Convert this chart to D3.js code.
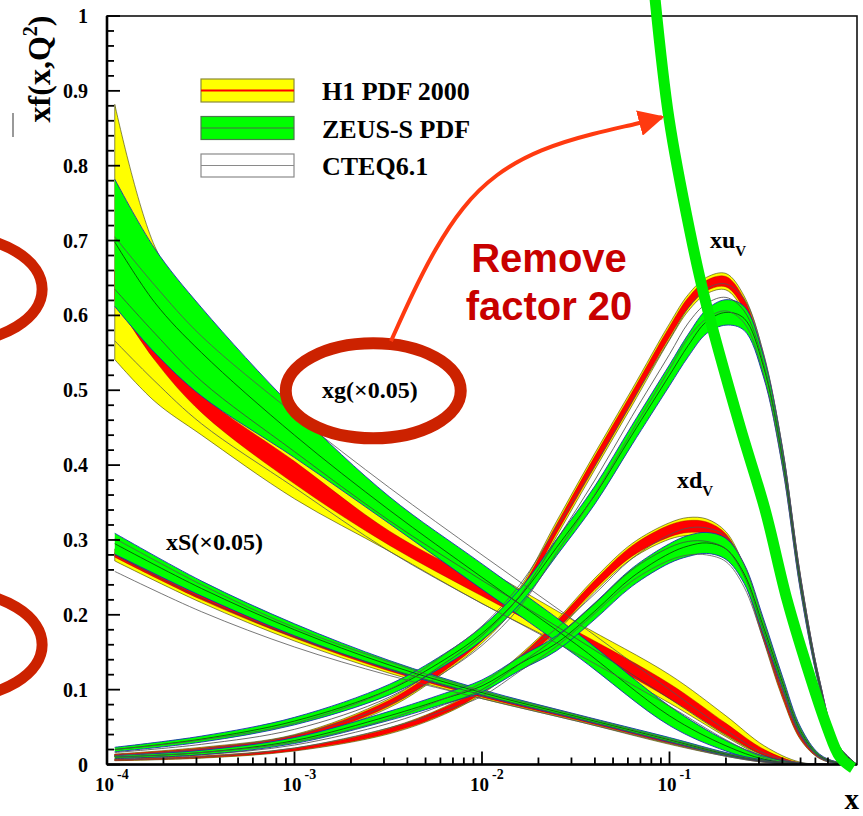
<!DOCTYPE html>
<html><head><meta charset="utf-8">
<script src="https://cdn.jsdelivr.net/npm/d3@7"></script>
<style>body{margin:0;background:#fff} svg{display:block}</style>
</head><body>
<svg id="c" width="863" height="816"></svg>
<script>
// ---------- DATA ----------
const yTicks = [0,0.1,0.2,0.3,0.4,0.5,0.6,0.7,0.8,0.9,1];
const yTickLabels = ["0","0.1","0.2","0.3","0.4","0.5","0.6","0.7","0.8","0.9","1"];
const xDecades = [1e-4,1e-3,1e-2,1e-1];
const xDecadeExp = ["-4","-3","-2","-1"];
const legendLabels = ["H1 PDF 2000","ZEUS-S PDF","CTEQ6.1"];

// gluon xg (x0.05): lower / upper edges
const gX       = [1.1e-4,1.8e-4,3.2e-4,1e-3,3.2e-3,0.01,0.032,0.1,0.2,0.32,0.5,0.8];
const gH1TotHi = [0.882,0.692,0.595,0.460,0.350,0.265,0.190,0.120,0.065,0.025,0.003,0];
const gH1TotLo = [0.541,0.485,0.440,0.355,0.285,0.215,0.150,0.082,0.037,0.010,0,0];
const gH1ExpHi = [0.660,0.575,0.495,0.405,0.312,0.244,0.178,0.108,0.055,0.020,0.002,0];
const gH1ExpLo = [0.620,0.540,0.470,0.375,0.293,0.225,0.158,0.088,0.040,0.012,0,0];
const gZeusHi  = [0.782,0.689,0.610,0.475,0.358,0.268,0.176,0.078,0.032,0.011,0.002,0];
const gZeusLo  = [0.612,0.550,0.492,0.410,0.322,0.234,0.145,0.052,0.018,0.004,0,0];
const gZeusC   = [0.698,0.617,0.550,0.440,0.340,0.250,0.160,0.065,0.025,0.007,0.001,0];
const gCteqHi  = [0.705,0.640,0.572,0.468,0.370,0.280,0.190,0.100,0.046,0.015,0.002,0];
const gCteqLo  = [0.566,0.512,0.455,0.370,0.285,0.215,0.148,0.078,0.033,0.009,0,0];
const gCteqC   = [0.635,0.576,0.512,0.418,0.326,0.246,0.168,0.088,0.039,0.012,0.001,0];

// sea xS (x0.05): central value and half-width
const sX     = [1.1e-4,3.2e-4,1e-3,3.2e-3,0.01,0.032,0.1,0.2,0.32,0.5,0.8];
const sH1C   = [0.280,0.223,0.171,0.127,0.092,0.061,0.030,0.013,0.004,0.001,0];
const sH1Tot = [0.008,0.007,0.006,0.005,0.004,0.003,0.003,0.002,0.001,0.0005,0];
const sH1Exp = [0.003,0.003,0.002,0.002,0.002,0.0015,0.0015,0.001,0.0005,0.0002,0];
const sZeusC = [0.295,0.235,0.180,0.133,0.096,0.064,0.033,0.014,0.005,0.001,0];
const sZeusE = [0.014,0.010,0.008,0.006,0.004,0.003,0.003,0.002,0.001,0.0005,0];
const sCteqC = [0.280,0.222,0.170,0.128,0.093,0.062,0.031,0.013,0.004,0.001,0];
const sCteqE = [0.022,0.018,0.013,0.009,0.005,0.004,0.003,0.002,0.001,0.0005,0];

// valence grid
const vX = [1.1e-4,3.2e-4,1e-3,3.2e-3,6.3e-3,0.01,0.016,0.025,0.04,0.063,0.1,0.126,0.158,0.2,0.25,0.316,0.4,0.5,0.63,0.79,1.0];
// xu_v
const uH1C   = [0.012,0.020,0.036,0.082,0.130,0.170,0.228,0.315,0.405,0.490,0.578,0.617,0.640,0.645,0.615,0.540,0.415,0.245,0.110,0.025,0];
const uH1Tot = [0.002,0.003,0.004,0.006,0.007,0.008,0.009,0.010,0.011,0.011,0.011,0.011,0.011,0.011,0.011,0.010,0.009,0.007,0.004,0.002,0];
const uH1Exp = [0.0015,0.002,0.003,0.004,0.005,0.005,0.006,0.006,0.007,0.007,0.007,0.007,0.007,0.007,0.007,0.006,0.006,0.005,0.003,0.001,0];
const uZeusC = [0.020,0.034,0.058,0.100,0.140,0.175,0.225,0.290,0.360,0.440,0.520,0.560,0.592,0.604,0.596,0.533,0.410,0.240,0.108,0.025,0];
const uZeusE = [0.003,0.004,0.005,0.007,0.008,0.009,0.010,0.011,0.012,0.013,0.014,0.015,0.016,0.017,0.016,0.014,0.012,0.009,0.005,0.002,0];
const uCteqC = [0.016,0.027,0.047,0.090,0.135,0.172,0.226,0.300,0.380,0.465,0.548,0.590,0.616,0.624,0.606,0.537,0.412,0.242,0.109,0.025,0];
const uCteqE = [0.004,0.006,0.008,0.010,0.012,0.013,0.015,0.017,0.019,0.020,0.020,0.020,0.020,0.018,0.016,0.014,0.012,0.009,0.005,0.002,0];
// xd_v
const dH1C   = [0.006,0.010,0.020,0.045,0.072,0.100,0.140,0.185,0.240,0.285,0.312,0.318,0.316,0.300,0.255,0.175,0.095,0.037,0.010,0.002,0];
const dH1Tot = [0.001,0.0015,0.002,0.004,0.005,0.006,0.007,0.008,0.009,0.010,0.011,0.012,0.012,0.011,0.010,0.008,0.006,0.004,0.002,0.001,0];
const dH1Exp = [0.0007,0.001,0.0015,0.003,0.004,0.004,0.005,0.006,0.006,0.007,0.008,0.008,0.008,0.008,0.007,0.006,0.004,0.003,0.0015,0.0005,0];
const dZeusC = [0.010,0.016,0.032,0.065,0.088,0.105,0.135,0.162,0.205,0.250,0.282,0.292,0.296,0.288,0.255,0.185,0.110,0.045,0.012,0.002,0];
const dZeusE = [0.002,0.003,0.004,0.006,0.007,0.008,0.009,0.010,0.011,0.012,0.013,0.014,0.014,0.014,0.013,0.011,0.008,0.005,0.002,0.001,0];
const dCteqC = [0.008,0.013,0.026,0.055,0.080,0.100,0.135,0.170,0.215,0.260,0.290,0.298,0.298,0.288,0.252,0.180,0.105,0.042,0.011,0.002,0];
const dCteqE = [0.002,0.003,0.004,0.006,0.008,0.009,0.010,0.012,0.013,0.015,0.017,0.018,0.018,0.017,0.015,0.012,0.009,0.005,0.002,0.001,0];

// overlay: gluon without the factor 0.05 (hand-drawn thick green line)
const xgFullX = [0.0837,0.0994,0.1286,0.1546,0.2377,0.3231,0.4233,0.5412,0.6918,0.8115,0.9521];
const xgFullY = [1.0234,0.8628,0.7115,0.6218,0.4518,0.3407,0.2202,0.1305,0.0502,0.010,-0.0047];

// annotation arrow path (data coords)
const arrowX = [3.27e-3,4.24e-3,5.61e-3,7.82e-3,0.01172,0.02037,0.0401,0.0671,0.0912];
const arrowY = [0.5656,0.6285,0.6888,0.745,0.789,0.8226,0.844,0.856,0.8648];

// ---------- CHART ----------
const M = {l:107, r:857, t:16, b:764.5};
const x = d3.scaleLog().domain([1e-4,1]).range([M.l,M.r]);
const y = d3.scaleLinear().domain([0,1]).range([M.b,M.t]);
const svg = d3.select('#c');
const SERIF = '"Liberation Serif","Times New Roman",Times,serif';
const SANS = '"Liberation Sans",Arial,Helvetica,sans-serif';

svg.append('defs').append('clipPath').attr('id','clip')
  .append('rect').attr('x',M.l).attr('y',M.t).attr('width',M.r-M.l).attr('height',M.b-M.t);

const bandLH = (xs,lo,hi)=>xs.map((v,i)=>({x:v,lo:lo[i],hi:hi[i]}));
const bandPM = (xs,c,e)=>xs.map((v,i)=>({x:v,lo:c[i]-e[i],hi:c[i]+e[i]}));
const pts = (xs,vs)=>xs.map((v,i)=>({x:v,v:vs[i]}));

const CURVE = d3.curveCatmullRom.alpha(0.5);
const area = d3.area().x(d=>x(d.x)).y0(d=>y(Math.max(0,d.lo))).y1(d=>y(Math.max(0,d.hi))).curve(CURVE);
const lineLo = d3.line().x(d=>x(d.x)).y(d=>y(Math.max(0,d.lo))).curve(CURVE);
const lineHi = d3.line().x(d=>x(d.x)).y(d=>y(Math.max(0,d.hi))).curve(CURVE);
const lineV  = d3.line().x(d=>x(d.x)).y(d=>y(Math.max(0,d.v))).curve(CURVE);

const H1tot = [bandLH(gX,gH1TotLo,gH1TotHi), bandPM(sX,sH1C,sH1Tot), bandPM(vX,uH1C,uH1Tot), bandPM(vX,dH1C,dH1Tot)];
const H1exp = [bandLH(gX,gH1ExpLo,gH1ExpHi), bandPM(sX,sH1C,sH1Exp), bandPM(vX,uH1C,uH1Exp), bandPM(vX,dH1C,dH1Exp)];
const ZEUS  = [bandLH(gX,gZeusLo,gZeusHi), bandPM(sX,sZeusC,sZeusE), bandPM(vX,uZeusC,uZeusE), bandPM(vX,dZeusC,dZeusE)];
const ZEUSc = [pts(gX,gZeusC), pts(sX,sZeusC), pts(vX,uZeusC), pts(vX,dZeusC)];
const CTEQ  = [bandLH(gX,gCteqLo,gCteqHi), bandPM(sX,sCteqC,sCteqE), bandPM(vX,uCteqC,uCteqE), bandPM(vX,dCteqC,dCteqE)];
const CTEQc = [pts(gX,gCteqC), pts(sX,sCteqC), pts(vX,uCteqC), pts(vX,dCteqC)];

const plot = svg.append('g').attr('clip-path','url(#clip)');
H1tot.forEach(b=>plot.append('path').attr('d',area(b)).attr('fill','#ffff00').attr('stroke','#3a3a00').attr('stroke-width',0.6));
H1exp.forEach(b=>plot.append('path').attr('d',area(b)).attr('fill','#ff0000').attr('stroke','#900').attr('stroke-width',0.4));
ZEUS.forEach(b=>{
  plot.append('path').attr('d',area(b)).attr('fill','#00ff00').attr('stroke','none');
  plot.append('path').attr('d',lineLo(b)).attr('fill','none').attr('stroke','#1a2fb0').attr('stroke-width',0.9);
  plot.append('path').attr('d',lineHi(b)).attr('fill','none').attr('stroke','#1a2fb0').attr('stroke-width',0.9);
});
ZEUSc.forEach(p=>plot.append('path').attr('d',lineV(p)).attr('fill','none').attr('stroke','#0a3a0a').attr('stroke-width',0.8));
CTEQ.forEach(b=>{
  plot.append('path').attr('d',lineLo(b)).attr('fill','none').attr('stroke','#555').attr('stroke-width',0.8);
  plot.append('path').attr('d',lineHi(b)).attr('fill','none').attr('stroke','#555').attr('stroke-width',0.8);
});
CTEQc.forEach(p=>plot.append('path').attr('d',lineV(p)).attr('fill','none').attr('stroke','#444').attr('stroke-width',0.8));

// ---------- FRAME & AXES ----------
svg.append('rect').attr('x',M.l).attr('y',M.t).attr('width',M.r-M.l).attr('height',M.b-M.t)
  .attr('fill','none').attr('stroke','#111').attr('stroke-width',1.6);
svg.append('line').attr('x1',M.l).attr('x2',M.l).attr('y1',M.t).attr('y2',M.b).attr('stroke','#000').attr('stroke-width',2.6);
svg.append('line').attr('x1',M.l).attr('x2',M.r).attr('y1',M.b).attr('y2',M.b).attr('stroke','#000').attr('stroke-width',2.6);

const axG = svg.append('g').attr('stroke','#000').attr('stroke-width',1.8);
d3.range(0,1.0001,0.02).forEach(v=>{
  const major = Math.abs(v*10-Math.round(v*10))<1e-6;
  axG.append('line').attr('x1',M.l).attr('x2',M.l+(major?13:7)).attr('y1',y(v)).attr('y2',y(v));
});
xDecades.forEach(d=>{
  d3.range(1,10).forEach(k=>{
    const v=d*k; if(v<=1e-4||v>=1) return;
    axG.append('line').attr('x1',x(v)).attr('x2',x(v)).attr('y1',M.b).attr('y2',M.b-(k===1?13:7));
  });
});
svg.append('g').selectAll('text').data(yTicks).join('text')
  .attr('x',88).attr('y',d=>y(d)).attr('dy','0.35em').attr('text-anchor','end')
  .attr('font-family',SERIF).attr('font-weight','bold').attr('font-size',20)
  .text((d,i)=>yTickLabels[i]);
const xl = svg.append('g').attr('font-family',SERIF).attr('font-weight','bold');
xDecades.forEach((d,i)=>{
  xl.append('text').attr('x',x(d)+7).attr('y',791).attr('text-anchor','end').attr('font-size',19).text('10');
  xl.append('text').attr('x',x(d)+10).attr('y',779).attr('text-anchor','start').attr('font-size',14).text(xDecadeExp[i]);
});
svg.append('text').attr('x',859).attr('y',809).attr('text-anchor','end')
  .attr('font-family',SERIF).attr('font-weight','bold').attr('font-size',29).text('x');
const yt = svg.append('text').attr('transform','translate(50,69) rotate(-90)').attr('text-anchor','middle')
  .attr('font-family',SERIF).attr('font-weight','bold').attr('font-size',32);
yt.append('tspan').text('xf(x,Q');
yt.append('tspan').attr('dy',-13).attr('font-size',20).text('2');
yt.append('tspan').attr('dy',13).text(')');
svg.append('line').attr('x1',13).attr('x2',13).attr('y1',113).attr('y2',137).attr('stroke','#777').attr('stroke-width',1.5);

// ---------- LEGEND ----------
const lg = svg.append('g');
const boxFill = ['#ffff00','#00ff00','#ffffff'];
const boxEdge = ['#8a8a3a','#4a7a4a','#8a8a8a'];
const midCol  = ['#ff0000','#4a6a4a','#8a8a8a'];
const midW    = [2.2,1.2,1.2];
legendLabels.forEach((t,i)=>{
  const top = 79 + i*37.5;
  lg.append('rect').attr('x',201).attr('y',top).attr('width',93).attr('height',23)
    .attr('fill',boxFill[i]).attr('stroke',boxEdge[i]).attr('stroke-width',1.2);
  lg.append('line').attr('x1',201).attr('x2',294).attr('y1',top+11.5).attr('y2',top+11.5)
    .attr('stroke',midCol[i]).attr('stroke-width',midW[i]);
  lg.append('text').attr('x',322).attr('y',top+21).attr('font-family',SERIF).attr('font-weight','bold')
    .attr('font-size',26).text(t);
});

// ---------- CURVE LABELS ----------
const lab = svg.append('g').attr('font-family',SERIF).attr('font-weight','bold');
lab.append('text').attr('x',322).attr('y',398).attr('font-size',24).text('xg(×0.05)');
lab.append('text').attr('x',166).attr('y',550).attr('font-size',24).text('xS(×0.05)');
const tu = lab.append('text').attr('x',710).attr('y',248).attr('font-size',24);
tu.append('tspan').text('xu'); tu.append('tspan').attr('dy',8).attr('font-size',15).text('V');
const td = lab.append('text').attr('x',677).attr('y',488).attr('font-size',24);
td.append('tspan').text('xd'); td.append('tspan').attr('dy',8).attr('font-size',15).text('V');

// ---------- ANNOTATIONS ----------
const annRed = '#cc2200';
svg.append('ellipse').attr('cx',x(2.63e-3)).attr('cy',y(0.4993)).attr('rx',87.5).attr('ry',47.5)
  .attr('fill','none').attr('stroke',annRed).attr('stroke-width',12);
svg.append('ellipse').attr('cx',x(1.53e-5)).attr('cy',y(0.635)).attr('rx',88).attr('ry',53)
  .attr('fill','none').attr('stroke',annRed).attr('stroke-width',11);
svg.append('ellipse').attr('cx',x(1.53e-5)).attr('cy',y(0.16)).attr('rx',88).attr('ry',53)
  .attr('fill','none').attr('stroke',annRed).attr('stroke-width',11);

svg.append('path').attr('d', d3.line().x(d=>x(d.x)).y(d=>y(d.v)).curve(d3.curveCatmullRom.alpha(0.5))(pts(xgFullX,xgFullY)))
  .attr('fill','none').attr('stroke','#00ee00').attr('stroke-width',11).attr('stroke-linecap','butt');

svg.append('defs').append('marker').attr('id','ah').attr('viewBox','0 0 10 10').attr('refX',9).attr('refY',5)
  .attr('markerWidth',6.5).attr('markerHeight',6.5).attr('orient','auto').attr('markerUnits','strokeWidth')
  .append('path').attr('d','M0,0 L10,5 L0,10 Z').attr('fill','#ff3a10');
svg.append('path').attr('d', d3.line().x(d=>x(d.x)).y(d=>y(d.v)).curve(d3.curveBasis)(pts(arrowX,arrowY)))
  .attr('fill','none').attr('stroke','#ff3a10').attr('stroke-width',4).attr('marker-end','url(#ah)');

const rt = svg.append('g').attr('font-family',SANS).attr('font-weight','bold').attr('font-size',40)
  .attr('fill','#c80000').attr('text-anchor','middle');
rt.append('text').attr('x',549).attr('y',272).text('Remove');
rt.append('text').attr('x',549).attr('y',320).text('factor 20');
</script>
</body></html>
